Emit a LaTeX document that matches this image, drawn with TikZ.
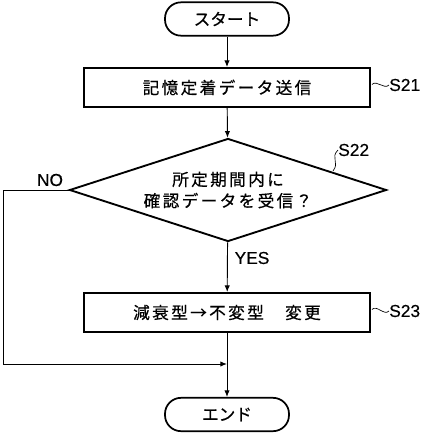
\documentclass[tikz,border=0pt]{standalone}
\usepackage{fontspec}
\setmainfont{Liberation Sans}[FakeBold=0.3]
\newfontfamily\jpfont{Noto Sans CJK JP}[FakeBold=0.5]
\newfontfamily\jpwide{Noto Sans CJK JP}[LetterSpace=14,FakeBold=0.5]
\usetikzlibrary{shapes.geometric,arrows.meta}
\tikzset{
  terminal/.style={draw,line width=1.3pt,rounded corners=12pt,
    minimum width=93pt,minimum height=25pt,inner sep=0pt,
    font=\jpfont\fontsize{12.5pt}{14pt}\selectfont},
  procbox/.style={draw,line width=1.4pt,minimum width=214.5pt,
    minimum height=29.25pt,inner sep=0pt,
    font=\jpwide\fontsize{12.5pt}{14pt}\selectfont},
  decision/.style={draw,diamond,aspect=3,line width=1.4pt,
    minimum width=237.75pt,minimum height=77.25pt,inner sep=0pt,
    align=center,font=\jpwide\fontsize{12.5pt}{16pt}\selectfont},
  flow/.style={line width=0.7pt,-{Latex[length=5pt,width=4pt]}},
  tag/.style={inner sep=0pt,font=\fontsize{13pt}{15pt}\selectfont},
  squig/.style={line width=0.5pt}
}
\begin{document}
\begin{tikzpicture}[x=0.75pt,y=-0.75pt]
\useasboundingbox (0,0) rectangle (425,433);
\node[terminal] (start) at (227,19) {スタート};
\node[procbox] (s21) at (227,87.5) {記憶定着データ送信};
\node[decision] (s22) at (228,190) {所定期間内に\\確認データを受信？};
\node[procbox] (s23) at (227,312.5) {減衰型→不変型　変更};
\node[terminal] (fin) at (227,414.5) {エンド};
\coordinate (nobend) at (3,190);
\coordinate (join) at (227,364);
% flow lines
\draw[flow] (start) -- (s21);
\draw[flow] (s21) -- (s22);
\draw[flow] (s22) -- (s23);
\draw[flow] (s23) -- (fin);
\draw[flow] (s22.west) -- (nobend) |- (join);
% labels
\node[tag] (no) at (50,180) {NO};
\node[tag] (yes) at (252,258) {YES};
\node[tag,anchor=west] (l21) at (389,85) {S21};
\node[tag,anchor=west] (l22) at (338,150) {S22};
\node[tag,anchor=west] (l23) at (389,311) {S23};
\draw[squig] (s21.east) ++(1,-3) .. controls +(5,-5) and +(-5,5) .. (l21.west);
\draw[squig] (s23.east) ++(1,-3) .. controls +(5,-5) and +(-5,5) .. (l23.west);
\draw[squig] (333,171) .. controls (340,162) and (330,158) .. (l22.west);
\end{tikzpicture}
\end{document}
